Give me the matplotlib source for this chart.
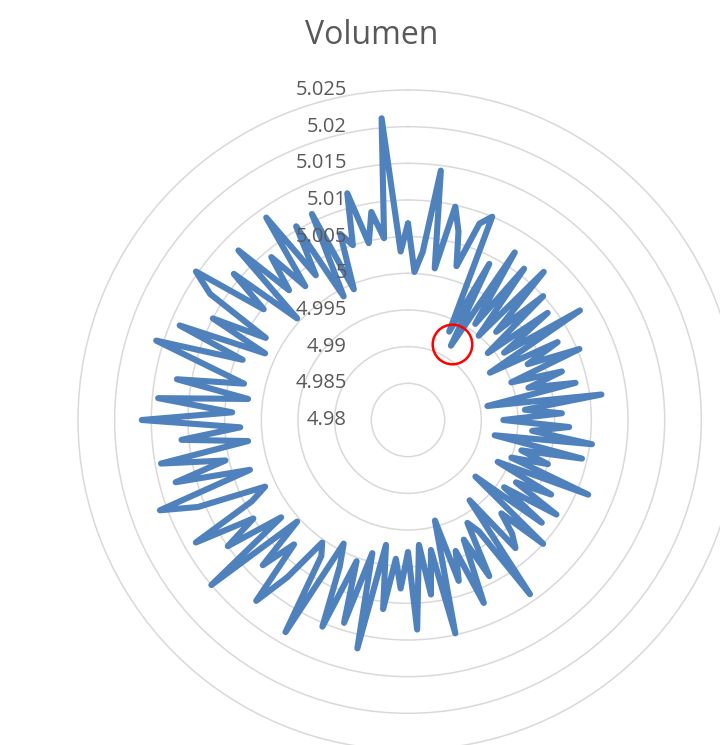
import numpy as np
import matplotlib
matplotlib.use("Agg")
import matplotlib.pyplot as plt

# Volumen, one value per category, clockwise from the top
volumen = [
    5.0068, 5.0002, 5.0030, 5.0143, 5.0010, 5.0098, 5.0066, 5.0020, 5.0085, 5.0100, 4.9933, 5.0040,
    4.9917, 5.0071, 4.9960, 5.0060, 4.9950, 5.0074, 4.9970, 5.0050, 4.9942, 5.0040, 4.9960, 5.0078,
    4.9929, 5.0030, 4.9980, 5.0053, 4.9950, 5.0020, 4.9970, 5.0034, 4.9910, 5.0066, 4.9960, 5.0010,
    4.9930, 5.0020, 4.9970, 5.0053, 4.9920, 5.0043, 4.9960, 5.0000, 4.9950, 5.0066, 4.9935, 5.0020,
    4.9970, 5.0040, 4.9960, 5.0030, 4.9920, 5.0050, 4.9980, 5.0010, 5.0028, 4.9938, 5.0090, 4.9980,
    4.9962, 5.0040, 4.9980, 5.0070, 4.9990, 5.0030, 4.9942, 5.0098, 4.9980, 5.0040, 4.9971, 5.0086,
    4.9980, 5.0030, 4.9990, 5.0060, 4.9973, 5.0119, 4.9988, 5.0090, 5.0005, 5.0105, 5.0020, 4.9990,
    5.0134, 5.0020, 5.0004, 5.0070, 5.0122, 5.0030, 5.0080, 5.0005, 5.0150, 5.0018, 5.0100, 5.0050,
    5.0134, 5.0040, 5.0015, 5.0110, 5.0160, 5.0026, 5.0128, 5.0055, 5.0142, 5.0020, 5.0110, 5.0029,
    5.0163, 5.0040, 5.0142, 5.0020, 5.0120, 5.0029, 5.0080, 5.0160, 5.0040, 5.0137, 5.0015, 5.0100,
    5.0024, 5.0120, 5.0153, 5.0048, 5.0110, 5.0005, 5.0127, 5.0040, 5.0090, 5.0030, 5.0137, 5.0034,
    5.0105, 4.9990, 5.0110, 4.9993, 5.0070, 5.0050, 5.0120, 5.0047, 5.0088, 5.0050, 5.0213, 5.0030,
]
r_ticks = [4.98, 4.985, 4.99, 4.995, 5.0, 5.005, 5.01, 5.015, 5.02, 5.025]
r_labels = ["4.98", "4.985", "4.99", "4.995", "5", "5.005", "5.01", "5.015", "5.02", "5.025"]

# highlighted point (red ring)
mark_angle_deg = 29.7
mark_value = 4.9920

blue = '#4F81BD'
grey_txt = '#595959'
grid_col = '#D9D9D9'

plt.rcParams['font.family'] = ['Open Sans', 'DejaVu Sans']

W, H = 720, 745
fig = plt.figure(figsize=(W / 100, H / 100), dpi=100)
cx, cy, R = 408, 420, 330
ax = fig.add_axes([(cx - R) / W, (H - cy - R) / H, 2 * R / W, 2 * R / H],
                  projection='polar')
ax.set_theta_zero_location('N')
ax.set_theta_direction(-1)

n = len(volumen)
theta = np.linspace(0, 2 * np.pi, n, endpoint=False)
th = np.append(theta, theta[0])
vals = np.append(volumen, volumen[0])
ax.plot(th, vals, color=blue, lw=4.4, solid_joinstyle='round',
        solid_capstyle='round', zorder=5)

ax.set_ylim(r_ticks[0], r_ticks[-1])
ax.set_yticks(r_ticks[1:])
ax.set_yticklabels([])
ax.set_xticks([])
ax.yaxis.grid(True, color=grid_col, lw=1.1)
for gl in ax.yaxis.get_gridlines():
    gl.set_clip_on(False)
ax.spines['polar'].set_visible(False)
ax.set_facecolor('none')

for v, lab in zip(r_ticks, r_labels):
    ax.annotate(lab, xy=(0, v), xytext=(-61, 0), textcoords='offset pixels',
                ha='right', va='center', fontsize=14.5, color=grey_txt, zorder=6)

ax.plot([np.deg2rad(mark_angle_deg)], [mark_value], 'o', ms=28.5, mfc='none',
        mec='red', mew=1.8, zorder=7)

fig.text(372 / W, 1 - 35 / H, 'Volumen', ha='center', va='center',
         fontsize=23, color=grey_txt)

fig.savefig('out.png', dpi=100)
